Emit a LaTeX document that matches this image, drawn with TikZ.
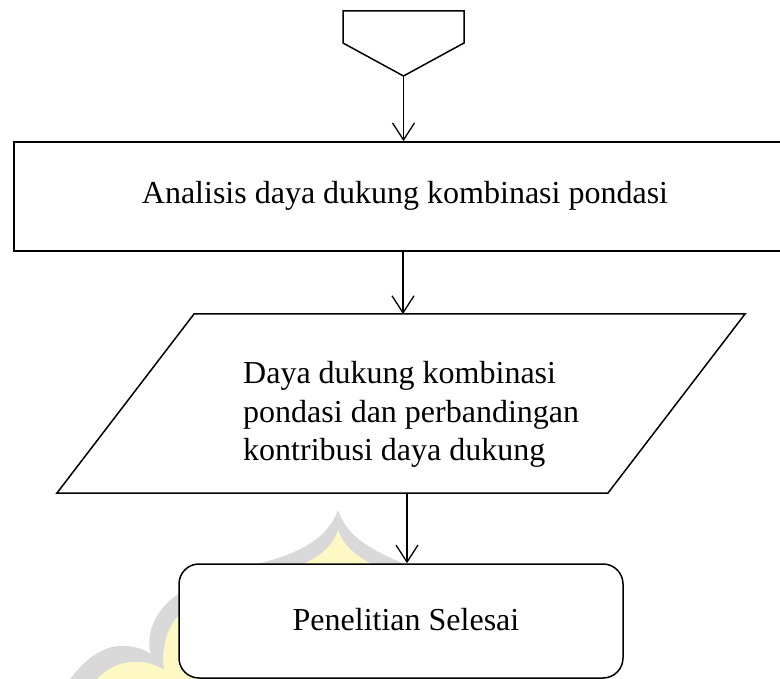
\documentclass[tikz,border=0pt]{standalone}
\usepackage{fontspec}
\setmainfont{Liberation Serif}
\usetikzlibrary{arrows.meta}
\definecolor{wmgray}{HTML}{D9D9D9}
\definecolor{wmyellow}{HTML}{FDF8C4}
\tikzset{
  conn/.style={line width=1.3pt, -{Straight Barb[length=17pt,width=22pt]}},
  shapeline/.style={line width=1.5pt, line join=miter},
  procbox/.style={draw, line width=1.8pt, fill=white, minimum width=778pt, minimum height=109pt, inner sep=0pt},
  termbox/.style={draw, line width=1.5pt, fill=white, rounded corners=20pt, minimum width=444pt, minimum height=114pt, inner sep=0pt},
  txt/.style={font=\fontsize{32}{38.8}\selectfont, inner sep=0pt}
}
\begin{document}
\begin{tikzpicture}[x=1pt,y=-1pt]
\useasboundingbox (0,0) rectangle (780,679);
\clip (0,0) rectangle (780,679);
\fill[white] (0,0) rectangle (780,679);
% faint watermark
\fill[wmgray] (338,510) .. controls (350,545) and (385,555) .. (430,575) -- (430,679) -- (70,679)
  .. controls (85,660) and (100,648) .. (118,646) .. controls (135,645) and (145,650) .. (151,654)
  .. controls (144,630) and (160,605) .. (180,593) -- (200,580)
  .. controls (250,562) and (320,560) .. (338,510) -- cycle;
\fill[wmyellow] (338,530) .. controls (346,552) and (365,562) .. (395,575) -- (395,679) -- (97,679)
  .. controls (108,668) and (118,663) .. (132,662) .. controls (146,661) and (156,665) .. (164,670)
  .. controls (160,640) and (172,616) .. (192,605) -- (232,582)
  .. controls (300,572) and (330,556) .. (338,530) -- cycle;
% off-page connector
\coordinate (cTL) at (343,11);
\coordinate (cTR) at (464,11);
\coordinate (cR) at (464,43);
\coordinate (cTip) at (403.5,76);
\coordinate (cL) at (343,43);
\draw[shapeline] (cTL) -- (cTR) -- (cR) -- (cTip) -- (cL) -- cycle;
% process
\node[procbox] (proc) at (403,196.5) {};
\node[txt] (proctext) at (405,196) {Analisis daya dukung kombinasi pondasi};
% data (parallelogram)
\coordinate (pTL) at (194,314);
\coordinate (pTR) at (745,314);
\coordinate (pBR) at (608,493);
\coordinate (pBL) at (57,493);
\draw[shapeline, fill=white] (pTL) -- (pTR) -- (pBR) -- (pBL) -- cycle;
\node[txt, align=left, anchor=west] (data) at (243,414.5) {Daya dukung kombinasi\\pondasi dan perbandingan\\kontribusi daya dukung};
\coordinate (pOut) at (407,493);
% terminator
\node[termbox] (term) at (401,621) {};
\node[txt] (termtext) at (406,620) {Penelitian Selesai};
% connectors
\draw[conn] (cTip) -- (cTip |- proc.north);
\draw[conn] (proc.south) -- (proc.south |- pTL);
\draw[conn] (pOut) -- (pOut |- term.north);
\end{tikzpicture}
\end{document}
